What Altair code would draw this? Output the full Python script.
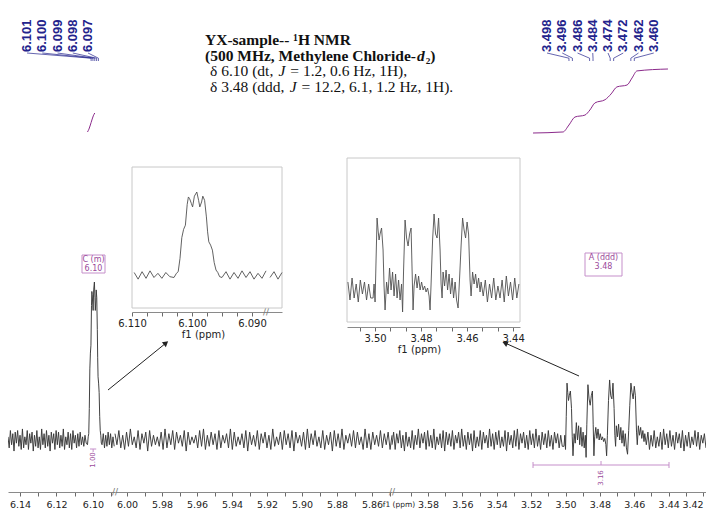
import altair as alt
import numpy as np
import pandas as pd

# ------------------------------------------------------------------ data
# relative intensities (C-peak maximum = 100)
noise_s1_left = [2, -5, 6, -3, 4, -7, 5, -2, 6, -4, 3, -6, 7, -5, 2, -3, 6, -6, 4, -2,
                 5, -7, 3, -4, 6, -5, 2, -6, 7, -3, 4, -5, 6, -4, 3, -7, 5, -2, 4, -6,
                 6, -3, 5, -5, 3, -4, 7, -6, 2, -3, 5, -5, 4, -6, 6, -2, 3, -5, 4, -4,
                 5, -3, 2, -4, 3, -2]
c_ppm = [6.1030, 6.1026, 6.1023, 6.1020, 6.1017, 6.1014, 6.1011, 6.1008, 6.1006, 6.1004,
         6.1001, 6.0999, 6.0996, 6.0992, 6.0989, 6.0987, 6.0984, 6.0982, 6.0979, 6.0976,
         6.0974, 6.0972, 6.0969, 6.0966, 6.0963, 6.0960, 6.0957, 6.0954]
c_int = [-3, 2, 4, 20, 45, 55, 60, 85, 94, 92, 86, 82, 95, 100, 90, 82, 88, 95, 90, 70,
         52, 40, 36, 30, 15, 6, 3, -2]
noise_s1_right = [-3, 4, -5, 3, -4, 5, -3, 4, -5, 2, -4, 5, -3, 4, -5, 3]
noise_s2 = [4, -3, 6, -5, 3, -6, 5, -4, 7, -3, 2, -5, 6, -6, 4, -2, 5, -7, 6, -4,
            3, -3, 2, -4, 5, -6, 7, -5, 4, -3, 6, -6, 5, -2, 3, -4, 6, -7, 5, -3,
            2, -2, 3, -5, 6, -4, 7, -6, 3, -4, 5, -3, 4, -6, 6, -5, 3, -2, 4, -5,
            7, -6, 5, -4, 2, -3, 4, -5, 6, -7, 5, -3, 3, -4, 6, -6, 4, -2, 5, -5,
            3, -6, 7, -4, 2, -3, 5, -6, 6, -3, 4, -5, 6, -7, 5, -2, 3, -4, 5, -6,
            7, -5, 4, -3, 6, -4, 2, -5, 6, -6, 3, -3, 5, -7, 6, -4, 4, -5, 7, -6,
            3, -2, 4, -4, 6, -5, 5, -3, 2, -6, 7, -5, 4, -6, 5, -3, 3, -4, 6, -5,
            4, -3, 5, -6, 3]
noise_s3_left = [-3, 5, -6, 4, -2, 6, -5, 3, -7, 5, -4, 2, -5, 6, -6, 3, -3, 7, -5, 4,
                 -2, 5, -6, 6, -4, 3, -5, 7, -6, 2, -3, 4, -5, 6, -7, 5, -3, 4, -4, 6,
                 -6, 3, -2, 5, -5, 7, -4, 3, -6, 5, -3, 4, -7, 6, -5, 2, -4, 6, -6, 5,
                 -2, 3, -5, 7, -4, 4, -6, 5, -3, 6, -5, 2, -4, 6, -7, 5, -3, 3, -5, 6,
                 -4, 7, -6, 4, -2, 5, -5, 3, -6, 6, -3, 4, -5, 7, -4, 3, -6, 5, -3, 4,
                 -5, 6, -4, 3, -6, 5, -2, 4, -5, 3, -4]
a_ppm = [3.50087, 3.50043, 3.50000, 3.49957, 3.49913, 3.49870, 3.49826, 3.49783, 3.49717, 3.49652,
         3.49609, 3.49565, 3.49500, 3.49435, 3.49370, 3.49304, 3.49239, 3.49174, 3.49109, 3.49043,
         3.48978, 3.48913, 3.48848, 3.48804, 3.48760, 3.48696, 3.48630, 3.48565, 3.48500, 3.48435,
         3.48391, 3.48348, 3.48304, 3.48239, 3.48174, 3.48109, 3.48043, 3.47978, 3.47913, 3.47848,
         3.47783, 3.47717, 3.47652, 3.47609, 3.47565, 3.47500, 3.47435, 3.47370, 3.47304, 3.47239,
         3.47174, 3.47130, 3.47087, 3.47043, 3.46978, 3.46913, 3.46848, 3.46783, 3.46717, 3.46652,
         3.46587, 3.46522, 3.46457, 3.46391, 3.46326, 3.46261, 3.46196, 3.46130, 3.46065, 3.46000,
         3.45935, 3.45870, 3.45826, 3.45761, 3.45696, 3.45630, 3.45565, 3.45500, 3.45435]
a_int = [-4, 3, -6, 15, 36, 30, 25, 28, 31, 20, 2, -10, 4, -2, 11, 0, 9, -3, 8, -4,
         5, -5, 3, -11, 10, 35, 26, 22, 28, 31, 10, -10, 2, 8, 1, 7, 0, 4, 0, 2,
         -1, 1, -3, -10, 3, 25, 38, 28, 26, 36, 20, 3, -4, 9, 2, 10, 0, 8, -2, 6,
         -4, 4, -5, -9, 6, 22, 36, 30, 26, 34, 28, 5, -3, 9, 3, 8, 1, 6, -1]
noise_s3_right = [4, -3, 5, -6, 3, -4, 6, -5, 2, -4, 5, -6, 7, -3, 4, -5, 6, -4, 3, -6,
                  5, -2, 4, -5, 6, -7, 3, -4, 5, -5, 2, -3, 6, -4, 5, -6, 3, -2, 4, -5]

left_peaks = ["6.101", "6.100", "6.099", "6.098", "6.097"]
right_peaks = ["3.498", "3.496", "3.486", "3.484", "3.474", "3.472", "3.462", "3.460"]

int_c_ppm = [6.1030, 6.1022, 6.1010, 6.0998, 6.0990]
int_c_val = [0, 0.15, 0.5, 0.85, 1.0]
int_a_ppm = [3.5189, 3.5015, 3.4980, 3.4945, 3.4887, 3.4858, 3.4829, 3.4770, 3.4735,
             3.4701, 3.4642, 3.4613, 3.4584, 3.4404]
int_a_val = [0, 0.016, 0.125, 0.25, 0.28, 0.36, 0.47, 0.52, 0.61, 0.72, 0.75, 0.86, 0.97, 1.0]

integ_c = ("1.00", 6.1016, 6.0982)
integ_a = ("3.16", 3.5189, 3.4398)

ticks1 = [round(6.14 - 0.01 * k, 2) for k in range(6)]
ticks2 = [round(6.00 - 0.01 * k, 2) for k in range(16)]
ticks3 = [round(3.59 - 0.01 * k, 2) for k in range(18)]
ticks_i1 = [round(6.110 - 0.0025 * k, 4) for k in range(9)]
ticks_i2 = [round(3.50 + 0.02 / 3 * k, 5) for k in range(1, -10, -1)]

# ------------------------------------------------------------------ tables
def grid(start, end, vals):
    return pd.DataFrame({"ppm": np.linspace(start, end, len(vals)), "i": vals})

spec1 = pd.concat([grid(6.1466, 6.1037, noise_s1_left),
                   pd.DataFrame({"ppm": c_ppm, "i": c_int}),
                   grid(6.0950, 6.0850, noise_s1_right)], ignore_index=True)
spec2 = grid(6.0069, 5.8486, noise_s2)
spec3 = pd.concat([grid(3.6009, 3.5019, noise_s3_left),
                   pd.DataFrame({"ppm": a_ppm, "i": a_int}),
                   grid(3.4539, 3.4183, noise_s3_right)], ignore_index=True)

main1 = spec1[spec1.ppm >= 6.0879]
ins1 = spec1[(spec1.ppm <= 6.1100) & (spec1.ppm >= 6.0850)].copy()
ins1["part"] = (ins1.ppm < 6.0872).astype(int)
ins2 = spec3[(spec3.ppm <= 3.5122) & (spec3.ppm >= 3.4370)]

# ------------------------------------------------------------------ layout
X1 = ([6.0879, 6.1466], [107, 0])
X2 = ([5.8486, 6.0069], [384, 107])
X3 = ([3.41828, 3.60094], [698, 384])
YM = ([0, 100], [432, 274])
XI1 = ([6.085, 6.110], [274, 124])
YI1 = ([0, 100], [267, 184])
XI2 = ([3.437, 3.5122], [512, 339])
YI2 = ([0, 40], [282, 202])

SPEC = "#383838"
PURPLE = "#9b4a9b"
BOXC = "#c58fca"
INTC = "#8b2a8b"
NAVY = "#23238c"
AXC = "#8a8a8a"
LBL = "#222222"

def sc(d):
    return alt.Scale(domain=d[0], range=d[1], nice=False, zero=False)

def main_axis(vals, flush):
    return alt.Axis(orient="bottom", values=vals, title=None, grid=False,
                    labelExpr="round(datum.value*100) % 2 == 0 ? format(datum.value, '.2f') : ''",
                    domainColor=AXC, tickColor="#6a6a6a", tickSize=4, labelFont="DejaVu Sans",
                    labelFontSize=9.5, labelColor=LBL, labelPadding=3, labelOverlap=False,
                    labelFlush=flush, offset=0)

def inset_axis(vals, expr, off, tx):
    return alt.Axis(orient="bottom", values=vals, title="f1 (ppm)", grid=False, labelExpr=expr,
                    domainColor=AXC, tickColor="#6a6a6a", tickSize=4, labelFont="DejaVu Sans",
                    labelFontSize=10, labelColor=LBL, labelPadding=2, labelOverlap=False,
                    labelFlush=False, offset=off, titleFont="DejaVu Sans", titleFontSize=10,
                    titleFontWeight="normal", titleColor=LBL, titlePadding=1, titleX=tx)

one = pd.DataFrame({"k": [0]})
layers = []

# main spectrum, three broken segments
for df, xd, ticks, fl in [(main1, X1, ticks1, False), (spec2, X2, ticks2, False), (spec3, X3, ticks3, 10)]:
    layers.append(alt.Chart(df).mark_line(color=SPEC, strokeWidth=0.95).encode(
        x=alt.X("ppm:Q", scale=sc(xd), axis=main_axis(ticks, fl)),
        y=alt.Y("i:Q", scale=sc(YM), axis=None)))

# axis break marks and main axis title
for xb, yb in [(107, 484), (384, 484), (258, 304)]:
    layers.append(alt.Chart(one).mark_text(text="//", fontSize=9, color="#777", font="DejaVu Sans").encode(
        x=alt.value(xb), y=alt.value(yb)))
layers.append(alt.Chart(one).mark_text(text="f1 (ppm)", fontSize=7.5, color=LBL, font="DejaVu Sans",
                                       baseline="middle", align="center").encode(
    x=alt.value(391), y=alt.value(497)))

# inset frames
for x0, y0, x1, y1 in [(124, 159, 274, 300), (339, 150, 512, 314)]:
    layers.append(alt.Chart(one).mark_rect(fill="white", stroke="#c8c8c8", strokeWidth=1).encode(
        x=alt.value(x0), x2=alt.value(x1), y=alt.value(y0), y2=alt.value(y1)))

# inset 1 (6.10 region)
layers.append(alt.Chart(ins1).mark_line(color="#505050", strokeWidth=0.9).encode(
    x=alt.X("ppm:Q", scale=sc(XI1),
            axis=inset_axis(ticks_i1, "round(datum.value*1000) % 10 == 0 ? format(datum.value, '.3f') : ''", -180, 195)),
    y=alt.Y("i:Q", scale=sc(YI1), axis=None),
    detail="part:N"))

# inset 2 (3.48 region)
layers.append(alt.Chart(ins2).mark_line(color="#505050", strokeWidth=0.9).encode(
    x=alt.X("ppm:Q", scale=sc(XI2),
            axis=inset_axis(ticks_i2, "abs(datum.value*50 - round(datum.value*50)) < 0.01 ? format(datum.value, '.2f') : ''", -165, 411)),
    y=alt.Y("i:Q", scale=sc(YI2), axis=None)))

# integral curves
layers.append(alt.Chart(pd.DataFrame({"ppm": int_c_ppm, "v": int_c_val})).mark_line(
    color=INTC, strokeWidth=1, interpolate="monotone").encode(
    x=alt.X("ppm:Q", scale=sc(X1), axis=None),
    y=alt.Y("v:Q", scale=sc(([0, 1], [124, 105])), axis=None)))
layers.append(alt.Chart(pd.DataFrame({"ppm": int_a_ppm, "v": int_a_val})).mark_line(
    color=INTC, strokeWidth=1, interpolate="monotone").encode(
    x=alt.X("ppm:Q", scale=sc(X3), axis=None),
    y=alt.Y("v:Q", scale=sc(([0, 1], [125, 61])), axis=None)))

# peak labels with connectors
def peak_labels(labels, start, gap, xd):
    lab = pd.DataFrame({"lab": labels, "lx": [start - gap * k for k in range(len(labels))]})
    lab["px"] = lab["lab"].astype(float)
    rows = []
    for _, r in lab.iterrows():
        rows += [{"lab": r.lab, "x": r.lx, "s": 0.0}, {"lab": r.lab, "x": r.px, "s": 0.65},
                 {"lab": r.lab, "x": r.px, "s": 1.0}]
    con = pd.DataFrame(rows)
    t = alt.Chart(lab).mark_text(angle=270, align="left", baseline="middle", font="Liberation Sans",
                                 fontSize=13, fontWeight="bold", color=NAVY).encode(
        x=alt.X("lx:Q", scale=sc(xd), axis=None), y=alt.value(44), text="lab:N")
    c = alt.Chart(con).mark_line(color=NAVY, strokeWidth=0.7).encode(
        x=alt.X("x:Q", scale=sc(xd), axis=None),
        y=alt.Y("s:Q", scale=sc(([0, 1], [45, 53])), axis=None),
        detail="lab:N", order="s:Q")
    return [t, c]

layers += peak_labels(left_peaks, 6.13616, 15.25 / 1823, X1)
layers += peak_labels(right_peaks, 3.51077, 15.25 / 1719, X3)

# multiplet boxes
for x0, y0, x1, y1, l1, l2 in [(74, 247, 97, 265, "C (m)", "6.10"), (577, 245, 614, 268, "A (ddd)", "3.48")]:
    layers.append(alt.Chart(one).mark_rect(fill="white", stroke=BOXC, strokeWidth=1).encode(
        x=alt.value(x0), x2=alt.value(x1), y=alt.value(y0), y2=alt.value(y1)))
    cx = (x0 + x1) / 2
    for txt, yy in [(l1, y0 + 5), (l2, y0 + 14)]:
        layers.append(alt.Chart(one).mark_text(text=txt, fontSize=8, font="DejaVu Sans", color=PURPLE,
                                               baseline="middle").encode(x=alt.value(cx), y=alt.value(yy)))

# integration marks
def integ(info, xd, ybar, cap, ylab):
    lab, lo, hi = info
    d = pd.DataFrame({"lab": [lab], "lo": [lo], "hi": [hi], "mid": [(lo + hi) / 2]})
    xs = sc(xd)
    out = [alt.Chart(d).mark_rule(color=BOXC, strokeWidth=1).encode(
        x=alt.X("lo:Q", scale=xs, axis=None), x2="hi:Q", y=alt.value(ybar))]
    if cap:
        for f in ["lo", "hi"]:
            out.append(alt.Chart(d).mark_rule(color=BOXC, strokeWidth=1).encode(
                x=alt.X(f + ":Q", scale=xs, axis=None), y=alt.value(ybar - 3), y2=alt.value(ybar + 3)))
        out.append(alt.Chart(d).mark_rule(color=BOXC, strokeWidth=1).encode(
            x=alt.X("mid:Q", scale=xs, axis=None), y=alt.value(ybar - 4), y2=alt.value(ybar)))
    else:
        out.append(alt.Chart(d).mark_rule(color=BOXC, strokeWidth=1).encode(
            x=alt.X("mid:Q", scale=xs, axis=None), y=alt.value(ybar), y2=alt.value(ybar + 3)))
    out.append(alt.Chart(d).mark_text(angle=270, fontSize=7, font="DejaVu Sans", color=PURPLE,
                                      baseline="middle", align="center").encode(
        x=alt.X("mid:Q", scale=xs, axis=None), y=alt.value(ylab), text="lab:N"))
    return out

layers += integ(integ_c, X1, 441, False, 452)
layers += integ(integ_a, X3, 457, True, 470)

# arrows
for x0, y0, x1, y1, ang in [(100, 382, 158, 335, 51), (571, 368, 497, 335, 294)]:
    layers.append(alt.Chart(one).mark_rule(color="#222", strokeWidth=1).encode(
        x=alt.value(x0), y=alt.value(y0), x2=alt.value(x1), y2=alt.value(y1)))
    layers.append(alt.Chart(one).mark_point(shape="triangle-up", filled=True, size=40, angle=ang,
                                            color="#222", opacity=1).encode(
        x=alt.value(x1), y=alt.value(y1)))

# description text
SERIF = "Liberation Serif"
FS = 15.5
txt = [
    ("YX-sample-- \u00b9H NMR", 197, 37, "bold", "normal"),
    ("(500 MHz, Methylene Chloride-", 197, 52.7, "bold", "normal"),
    ("d", 198 + 13.609 * FS, 52.7, "bold", "italic"),
    ("\u2082)", 199 + 14.109 * FS, 52.7, "bold", "normal"),
    ("\u03b4 6.10 (dt,", 202, 68.4, "normal", "normal"),
    ("J", 203 + 4.361 * FS, 68.4, "normal", "italic"),
    ("= 1.2, 0.6 Hz, 1H),", 204 + 5.055 * FS, 68.4, "normal", "normal"),
    ("\u03b4 3.48 (ddd,", 202, 84.1, "normal", "normal"),
    ("J", 203 + 5.083 * FS, 84.1, "normal", "italic"),
    ("= 12.2, 6.1, 1.2 Hz, 1H).", 204 + 5.777 * FS, 84.1, "normal", "normal"),
]
for s, x, y, w, st in txt:
    layers.append(alt.Chart(one).mark_text(text=s, font=SERIF, fontSize=FS, fontWeight=w, fontStyle=st,
                                           color="#111", align="left", baseline="alphabetic").encode(
        x=alt.value(x), y=alt.value(y)))

chart = alt.layer(*layers).resolve_scale(x="independent", y="independent").properties(
    width=698, height=484,
    autosize=alt.AutoSizeParams(type="none"),
    padding={"left": 0, "top": 0, "right": 0, "bottom": 18},
    background="white",
).configure_view(strokeWidth=0)

chart.save("out.html", embed_options={"renderer": "svg", "actions": False})
